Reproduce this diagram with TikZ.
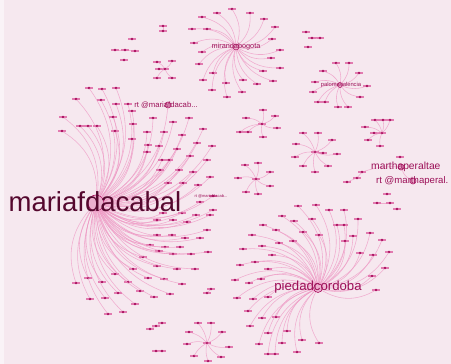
\documentclass[tikz,border=0pt]{standalone}
\usepackage{fontspec}
\setmainfont{Liberation Sans}
\definecolor{bgc}{HTML}{F6E8EF}
\definecolor{edgec}{HTML}{EE98C4}
\definecolor{dashc}{HTML}{E27BB0}
\definecolor{dotc}{HTML}{A80F5E}
\definecolor{hubc}{HTML}{E48AB8}
\definecolor{namec}{HTML}{9C1058}
\definecolor{bigc}{HTML}{55082E}

\begin{document}
\begin{tikzpicture}[x=1pt,y=-1pt]
\tikzset{
  leaf/.style={rectangle,fill=dashc,minimum width=8pt,minimum height=1.1pt,inner sep=0pt,label={[dot,anchor=center]center:}},
  dot/.style={circle,fill=dotc,minimum size=2.6pt,inner sep=0pt},
  hub/.style={circle,fill=hubc,fill opacity=0.6,draw=dotc,line width=0.6pt,inner sep=0pt},
  link/.style={draw=edgec,line width=0.55pt,draw opacity=0.75,bend left=#1},
  link/.default=30,
  nametext/.style={text=namec,inner sep=0pt}
}
\useasboundingbox (0,0) rectangle (451,364);
\fill[bgc] (0,0) rectangle (451,364);
\fill[white,opacity=0.5] (0,0) rectangle (4,364);

% hubs
\node[hub,minimum size=16pt] (maria) at (96,203) {};
\node[hub,minimum size=9pt] (piedad) at (318,288) {};
\node[hub,minimum size=6pt] (miranda) at (236,47) {};
\node[hub,minimum size=5pt] (paloma) at (340,85) {};
\node[hub,minimum size=6pt] (rtmaria) at (168,105) {};
\node[hub,minimum size=6pt] (martha) at (401,167) {};
\node[hub,minimum size=6pt] (rtmartha) at (413,181) {};

% mariafdacabal
\draw[link=30] (rtmaria) to (maria);
\node[leaf] (m1) at (89,88) {};   \draw[link=30] (m1) to (maria);
\node[leaf] (m2) at (102,89) {};  \draw[link=30] (m2) to (maria);
\node[leaf] (m3) at (116,88) {};  \draw[link=30] (m3) to (maria);
\node[leaf] (m4) at (76,99) {};   \draw[link=30] (m4) to (maria);
\node[leaf] (m5) at (101,100) {}; \draw[link=30] (m5) to (maria);
\node[leaf] (m6) at (116,104) {}; \draw[link=30] (m6) to (maria);
\node[leaf] (m7) at (128,104) {}; \draw[link=30] (m7) to (maria);
\node[leaf] (m8) at (63,117) {};  \draw[link=30] (m8) to (maria);
\node[leaf] (m9) at (113,117) {}; \draw[link=30] (m9) to (maria);
\node[leaf] (m10) at (62,131) {}; \draw[link=30] (m10) to (maria);
\node[leaf] (m11) at (80,126) {}; \draw[link=30] (m11) to (maria);
\node[leaf] (m12) at (88,126) {}; \draw[link=30] (m12) to (maria);
\node[leaf] (m13) at (97,126) {}; \draw[link=30] (m13) to (maria);
\node[leaf] (m14) at (115,131) {}; \draw[link=30] (m14) to (maria);
\node[leaf] (m15) at (132,111) {}; \draw[link=30] (m15) to (maria);
\node[leaf] (m16) at (133,124) {}; \draw[link=30] (m16) to (maria);
\node[leaf] (m17) at (153,118) {}; \draw[link=30] (m17) to (maria);
\node[leaf] (m18) at (173,122) {}; \draw[link=30] (m18) to (maria);
\node[leaf] (m19) at (189,118) {}; \draw[link=30] (m19) to (maria);
\node[leaf] (m20) at (203,129) {}; \draw[link=30] (m20) to (maria);
\node[leaf] (m21) at (147,132) {}; \draw[link=30] (m21) to (maria);
\node[leaf] (m22) at (164,132) {}; \draw[link=30] (m22) to (maria);
\node[leaf] (m23) at (182,135) {}; \draw[link=30] (m23) to (maria);
\node[leaf] (m24) at (197,143) {}; \draw[link=30] (m24) to (maria);
\node[leaf] (m25) at (212,146) {}; \draw[link=30] (m25) to (maria);
\node[leaf] (m26) at (132,139) {}; \draw[link=30] (m26) to (maria);
\node[leaf] (m27) at (148,145) {}; \draw[link=30] (m27) to (maria);
\node[leaf] (m28) at (159,146) {}; \draw[link=30] (m28) to (maria);
\node[leaf] (m29) at (177,149) {}; \draw[link=30] (m29) to (maria);
\node[leaf] (m30) at (190,156) {}; \draw[link=30] (m30) to (maria);
\node[leaf] (m31) at (207,160) {}; \draw[link=30] (m31) to (maria);
\node[leaf] (m32) at (147,152) {}; \draw[link=30] (m32) to (maria);
\node[leaf] (m33) at (162,160) {}; \draw[link=30] (m33) to (maria);
\node[leaf] (m34) at (169,160) {}; \draw[link=30] (m34) to (maria);
\node[leaf] (m35) at (160,170) {}; \draw[link=30] (m35) to (maria);
\node[leaf] (m36) at (179,170) {}; \draw[link=30] (m36) to (maria);
\node[leaf] (m37) at (193,172) {}; \draw[link=30] (m37) to (maria);
\node[leaf] (m38) at (210,177) {}; \draw[link=30] (m38) to (maria);
\node[leaf] (m39) at (168,183) {}; \draw[link=30] (m39) to (maria);
\node[leaf] (m40) at (183,183) {}; \draw[link=30] (m40) to (maria);
\node[leaf] (m41) at (198,185) {}; \draw[link=30] (m41) to (maria);
\node[leaf] (m42) at (200,202) {}; \draw[link=30] (m42) to (maria);
\node[leaf] (m43) at (213,210) {}; \draw[link=30] (m43) to (maria);
\node[leaf] (m44) at (163,213) {}; \draw[link=30] (m44) to (maria);
\node[leaf] (m45) at (182,213) {}; \draw[link=30] (m45) to (maria);
\node[leaf] (m46) at (196,215) {}; \draw[link=30] (m46) to (maria);
\node[leaf] (m47) at (210,215) {}; \draw[link=30] (m47) to (maria);
\node[leaf] (m48) at (157,220) {}; \draw[link=30] (m48) to (maria);
\node[leaf] (m49) at (173,220) {}; \draw[link=30] (m49) to (maria);
\node[leaf] (m50) at (187,222) {}; \draw[link=30] (m50) to (maria);
\node[leaf] (m51) at (207,230) {}; \draw[link=30] (m51) to (maria);
\node[leaf] (m52) at (157,235) {}; \draw[link=30] (m52) to (maria);
\node[leaf] (m53) at (172,235) {}; \draw[link=30] (m53) to (maria);
\node[leaf] (m54) at (185,238) {}; \draw[link=30] (m54) to (maria);
\node[leaf] (m55) at (200,238) {}; \draw[link=30] (m55) to (maria);
\node[leaf] (m56) at (150,245) {}; \draw[link=30] (m56) to (maria);
\node[leaf] (m57) at (165,247) {}; \draw[link=30] (m57) to (maria);
\node[leaf] (m58) at (180,247) {}; \draw[link=30] (m58) to (maria);
\node[leaf] (m59) at (208,252) {}; \draw[link=30] (m59) to (maria);
\node[leaf] (m60) at (76,283) {}; \draw[link=30] (m60) to (maria);
\node[leaf] (m61) at (88,278) {}; \draw[link=30] (m61) to (maria);
\node[leaf] (m62) at (102,282) {}; \draw[link=30] (m62) to (maria);
\node[leaf] (m63) at (115,274) {}; \draw[link=30] (m63) to (maria);
\node[leaf] (m64) at (128,282) {}; \draw[link=30] (m64) to (maria);
\node[leaf] (m65) at (133,269) {}; \draw[link=30] (m65) to (maria);
\node[leaf] (m66) at (143,257) {}; \draw[link=30] (m66) to (maria);
\node[leaf] (m67) at (159,251) {}; \draw[link=30] (m67) to (maria);
\node[leaf] (m68) at (173,254) {}; \draw[link=30] (m68) to (maria);
\node[leaf] (m69) at (191,254) {}; \draw[link=30] (m69) to (maria);
\node[leaf] (m70) at (157,266) {}; \draw[link=30] (m70) to (maria);
\node[leaf] (m71) at (177,269) {}; \draw[link=30] (m71) to (maria);
\node[leaf] (m72) at (195,269) {}; \draw[link=30] (m72) to (maria);
\node[leaf] (m73) at (148,278) {}; \draw[link=30] (m73) to (maria);
\node[leaf] (m74) at (164,279) {}; \draw[link=30] (m74) to (maria);
\node[leaf] (m75) at (182,284) {}; \draw[link=30] (m75) to (maria);
\node[leaf] (m76) at (90,299) {}; \draw[link=30] (m76) to (maria);
\node[leaf] (m77) at (105,298) {}; \draw[link=30] (m77) to (maria);
\node[leaf] (m78) at (118,293) {}; \draw[link=30] (m78) to (maria);
\node[leaf] (m79) at (140,291) {}; \draw[link=30] (m79) to (maria);
\node[leaf] (m80) at (154,297) {}; \draw[link=30] (m80) to (maria);
\node[leaf] (m81) at (170,294) {}; \draw[link=30] (m81) to (maria);
\node[leaf] (m82) at (108,314) {}; \draw[link=30] (m82) to (maria);
\node[leaf] (m83) at (123,312) {}; \draw[link=30] (m83) to (maria);
\node[leaf] (m84) at (135,304) {}; \draw[link=30] (m84) to (maria);
\node[leaf] (m85) at (213,196) {}; \draw[link=30] (m85) to (maria);

% piedadcordoba
\node[leaf] (p1) at (298,206) {}; \draw[link=30] (p1) to (piedad);
\node[leaf] (p2) at (316,205) {}; \draw[link=30] (p2) to (piedad);
\node[leaf] (p3) at (282,216) {}; \draw[link=30] (p3) to (piedad);
\node[leaf] (p4) at (294,221) {}; \draw[link=30] (p4) to (piedad);
\node[leaf] (p5) at (312,219) {}; \draw[link=30] (p5) to (piedad);
\node[leaf] (p6) at (329,210) {}; \draw[link=30] (p6) to (piedad);
\node[leaf] (p7) at (344,210) {}; \draw[link=30] (p7) to (piedad);
\node[leaf] (p8) at (358,219) {}; \draw[link=30] (p8) to (piedad);
\node[leaf] (p9) at (337,225) {}; \draw[link=30] (p9) to (piedad);
\node[leaf] (p10) at (344,225) {}; \draw[link=30] (p10) to (piedad);
\node[leaf] (p11) at (263,225) {}; \draw[link=30] (p11) to (piedad);
\node[leaf] (p12) at (276,230) {}; \draw[link=30] (p12) to (piedad);
\node[leaf] (p13) at (303,232) {}; \draw[link=30] (p13) to (piedad);
\node[leaf] (p14) at (319,235) {}; \draw[link=30] (p14) to (piedad);
\node[leaf] (p15) at (252,235) {}; \draw[link=30] (p15) to (piedad);
\node[leaf] (p16) at (262,246) {}; \draw[link=30] (p16) to (piedad);
\node[leaf] (p17) at (279,243) {}; \draw[link=30] (p17) to (piedad);
\node[leaf] (p18) at (293,241) {}; \draw[link=30] (p18) to (piedad);
\node[leaf] (p19) at (345,241) {}; \draw[link=30] (p19) to (piedad);
\node[leaf] (p20) at (353,236) {}; \draw[link=30] (p20) to (piedad);
\node[leaf] (p21) at (370,233) {}; \draw[link=30] (p21) to (piedad);
\node[leaf] (p22) at (382,240) {}; \draw[link=30] (p22) to (piedad);
\node[leaf] (p23) at (243,249) {}; \draw[link=30] (p23) to (piedad);
\node[leaf] (p24) at (272,255) {}; \draw[link=30] (p24) to (piedad);
\node[leaf] (p25) at (360,253) {}; \draw[link=30] (p25) to (piedad);
\node[leaf] (p26) at (373,255) {}; \draw[link=30] (p26) to (piedad);
\node[leaf] (p27) at (389,252) {}; \draw[link=30] (p27) to (piedad);
\node[leaf] (p28) at (240,265) {}; \draw[link=30] (p28) to (piedad);
\node[leaf] (p29) at (255,262) {}; \draw[link=30] (p29) to (piedad);
\node[leaf] (p30) at (268,269) {}; \draw[link=30] (p30) to (piedad);
\node[leaf] (p31) at (385,268) {}; \draw[link=30] (p31) to (piedad);
\node[leaf] (p32) at (235,280) {}; \draw[link=30] (p32) to (piedad);
\node[leaf] (p33) at (249,283) {}; \draw[link=30] (p33) to (piedad);
\node[leaf] (p34) at (261,279) {}; \draw[link=30] (p34) to (piedad);
\node[leaf] (p35) at (372,276) {}; \draw[link=30] (p35) to (piedad);
\node[leaf] (p36) at (376,290) {}; \draw[link=30] (p36) to (piedad);
\node[leaf] (p37) at (237,298) {}; \draw[link=30] (p37) to (piedad);
\node[leaf] (p38) at (253,299) {}; \draw[link=30] (p38) to (piedad);
\node[leaf] (p39) at (268,297) {}; \draw[link=30] (p39) to (piedad);
\node[leaf] (p40) at (248,311) {}; \draw[link=30] (p40) to (piedad);
\node[leaf] (p41) at (262,318) {}; \draw[link=30] (p41) to (piedad);
\node[leaf] (p42) at (276,317) {}; \draw[link=30] (p42) to (piedad);
\node[leaf] (p43) at (250,326) {}; \draw[link=30] (p43) to (piedad);
\node[leaf] (p44) at (268,333) {}; \draw[link=30] (p44) to (piedad);
\node[leaf] (p45) at (287,331) {}; \draw[link=30] (p45) to (piedad);
\node[leaf] (p46) at (259,344) {}; \draw[link=30] (p46) to (piedad);
\node[leaf] (p47) at (282,343) {}; \draw[link=30] (p47) to (piedad);
\node[leaf] (p48) at (302,340) {}; \draw[link=30] (p48) to (piedad);
\node[leaf] (p49) at (319,343) {}; \draw[link=30] (p49) to (piedad);
\node[leaf] (p50) at (268,354) {}; \draw[link=30] (p50) to (piedad);
\node[leaf] (p51) at (275,354) {}; \draw[link=30] (p51) to (piedad);
\node[leaf] (p52) at (297,352) {}; \draw[link=30] (p52) to (piedad);

% mirandabogota
\node[leaf] (b1) at (232,9) {};   \draw[link=25] (b1) to (miranda);
\node[leaf] (b2) at (217,13) {};  \draw[link=25] (b2) to (miranda);
\node[leaf] (b3) at (250,13) {};  \draw[link=25] (b3) to (miranda);
\node[leaf] (b4) at (202,17) {};  \draw[link=25] (b4) to (miranda);
\node[leaf] (b5) at (264,19) {};  \draw[link=25] (b5) to (miranda);
\node[leaf] (b6) at (192,29) {};  \draw[link=25] (b6) to (miranda);
\node[leaf] (b7) at (207,29) {};  \draw[link=25] (b7) to (miranda);
\node[leaf] (b8) at (275,27) {};  \draw[link=25] (b8) to (miranda);
\node[leaf] (b9) at (194,43) {};  \draw[link=25] (b9) to (miranda);
\node[leaf] (b10) at (272,39) {}; \draw[link=25] (b10) to (miranda);
\node[leaf] (b11) at (202,52) {}; \draw[link=25] (b11) to (miranda);
\node[leaf] (b12) at (280,50) {}; \draw[link=25] (b12) to (miranda);
\node[leaf] (b13) at (271,58) {}; \draw[link=25] (b13) to (miranda);
\node[leaf] (b14) at (199,64) {}; \draw[link=25] (b14) to (miranda);
\node[leaf] (b15) at (213,73) {}; \draw[link=25] (b15) to (miranda);
\node[leaf] (b16) at (263,71) {}; \draw[link=25] (b16) to (miranda);
\node[leaf] (b17) at (280,68) {}; \draw[link=25] (b17) to (miranda);
\node[leaf] (b18) at (203,80) {}; \draw[link=25] (b18) to (miranda);
\node[leaf] (b19) at (226,83) {}; \draw[link=25] (b19) to (miranda);
\node[leaf] (b20) at (243,80) {}; \draw[link=25] (b20) to (miranda);
\node[leaf] (b21) at (257,84) {}; \draw[link=25] (b21) to (miranda);
\node[leaf] (b22) at (273,81) {}; \draw[link=25] (b22) to (miranda);
\node[leaf] (b23) at (212,90) {}; \draw[link=25] (b23) to (miranda);
\node[leaf] (b24) at (227,97) {}; \draw[link=25] (b24) to (miranda);
\node[leaf] (b25) at (242,92) {}; \draw[link=25] (b25) to (miranda);

% palomavalencia
\node[leaf] (v1) at (336,63) {};  \draw[link=20] (v1) to (paloma);
\node[leaf] (v2) at (349,63) {};  \draw[link=20] (v2) to (paloma);
\node[leaf] (v3) at (323,71) {};  \draw[link=20] (v3) to (paloma);
\node[leaf] (v4) at (359,73) {};  \draw[link=20] (v4) to (paloma);
\node[leaf] (v5) at (315,82) {};  \draw[link=20] (v5) to (paloma);
\node[leaf] (v6) at (367,86) {};  \draw[link=20] (v6) to (paloma);
\node[leaf] (v7) at (313,92) {};  \draw[link=20] (v7) to (paloma);
\node[leaf] (v8) at (360,97) {};  \draw[link=20] (v8) to (paloma);
\node[leaf] (v9) at (318,102) {}; \draw[link=20] (v9) to (paloma);
\node[leaf] (v10) at (325,102) {}; \draw[link=20] (v10) to (paloma);
\node[leaf] (v11) at (338,107) {}; \draw[link=20] (v11) to (paloma);
\node[leaf] (v12) at (348,107) {}; \draw[link=20] (v12) to (paloma);

% small groups
\node[leaf] (a0) at (262,124) {};
\node[leaf] (a1) at (263,110) {}; \draw[link=15] (a1) to (a0);
\node[leaf] (a2) at (246,118) {}; \draw[link=15] (a2) to (a0);
\node[leaf] (a3) at (275,116) {}; \draw[link=15] (a3) to (a0);
\node[leaf] (a4) at (240,132) {}; \draw[link=15] (a4) to (a0);
\node[leaf] (a5) at (248,132) {}; \draw[link=15] (a5) to (a0);
\node[leaf] (a6) at (263,137) {}; \draw[link=15] (a6) to (a0);
\node[leaf] (a7) at (277,128) {}; \draw[link=15] (a7) to (a0);

\node[leaf] (c0) at (256,179) {};
\node[leaf] (c1) at (245,165) {}; \draw[link=15] (c1) to (c0);
\node[leaf] (c2) at (258,163) {}; \draw[link=15] (c2) to (c0);
\node[leaf] (c3) at (270,172) {}; \draw[link=15] (c3) to (c0);
\node[leaf] (c4) at (238,178) {}; \draw[link=15] (c4) to (c0);
\node[leaf] (c5) at (270,186) {}; \draw[link=15] (c5) to (c0);
\node[leaf] (c6) at (246,192) {}; \draw[link=15] (c6) to (c0);
\node[leaf] (c7) at (258,194) {}; \draw[link=15] (c7) to (c0);

\node[leaf] (d0) at (315,152) {};
\node[leaf] (d1) at (303,133) {}; \draw[link=15] (d1) to (d0);
\node[leaf] (d2) at (318,133) {}; \draw[link=15] (d2) to (d0);
\node[leaf] (d3) at (332,140) {}; \draw[link=15] (d3) to (d0);
\node[leaf] (d4) at (296,144) {}; \draw[link=15] (d4) to (d0);
\node[leaf] (d5) at (295,157) {}; \draw[link=15] (d5) to (d0);
\node[leaf] (d6) at (323,153) {}; \draw[link=15] (d6) to (d0);
\node[leaf] (d7) at (337,154) {}; \draw[link=15] (d7) to (d0);
\node[leaf] (d8) at (303,166) {}; \draw[link=15] (d8) to (d0);
\node[leaf] (d9) at (315,172) {}; \draw[link=15] (d9) to (d0);
\node[leaf] (d10) at (328,166) {}; \draw[link=15] (d10) to (d0);

\node[leaf] (e0) at (382,133) {};
\node[leaf] (e1) at (375,120) {}; \draw[link=15] (e1) to (e0);
\node[leaf] (e2) at (383,120) {}; \draw[link=15] (e2) to (e0);
\node[leaf] (e3) at (390,120) {}; \draw[link=15] (e3) to (e0);
\node[leaf] (e4) at (365,127) {}; \draw[link=15] (e4) to (e0);
\node[leaf] (e5) at (374,133) {}; \draw[link=15] (e5) to (e0);
\node[leaf] (e6) at (368,140) {}; \draw[link=15] (e6) to (e0);
\node[leaf] (e7) at (380,146) {}; \draw[link=15] (e7) to (e0);

\node[leaf] (f0) at (207,343) {};
\node[leaf] (f1) at (198,323) {}; \draw[link=15] (f1) to (f0);
\node[leaf] (f2) at (211,323) {}; \draw[link=15] (f2) to (f0);
\node[leaf] (f3) at (189,332) {}; \draw[link=15] (f3) to (f0);
\node[leaf] (f4) at (222,332) {}; \draw[link=15] (f4) to (f0);
\node[leaf] (f5) at (187,344) {}; \draw[link=15] (f5) to (f0);
\node[leaf] (f6) at (229,347) {}; \draw[link=15] (f6) to (f0);
\node[leaf] (f7) at (194,356) {}; \draw[link=15] (f7) to (f0);
\node[leaf] (f8) at (221,357) {}; \draw[link=15] (f8) to (f0);
\node[leaf] (f9) at (208,361) {}; \draw[link=15] (f9) to (f0);

\node[leaf] (g0) at (165,69) {};
\node[leaf] (g1) at (157,62) {}; \draw[link=15] (g1) to (g0);
\node[leaf] (g2) at (172,61) {}; \draw[link=15] (g2) to (g0);
\node[leaf] (g3) at (157,78) {}; \draw[link=15] (g3) to (g0);
\node[leaf] (g4) at (172,78) {}; \draw[link=15] (g4) to (g0);
\node[leaf] (g5) at (159,69) {}; \draw[link=15] (g5) to (g0);

% loose pairs and chains
\node[leaf] (h1) at (163,26) {}; \node[leaf] (h2) at (163,31) {}; \draw[link=0] (h1) to (h2);
\node[leaf] (h3) at (132,39) {};
\node[leaf] (h4) at (115,50) {}; \node[leaf] (h5) at (125,50) {}; \draw[link=0] (h4) to (h5);
\node[leaf] (h6) at (135,51) {}; \draw[link=0] (h5) to (h6);
\node[leaf] (h7) at (124,60) {};
\node[leaf] (k1) at (306,32) {};
\node[leaf] (k2) at (312,38) {}; \node[leaf] (k3) at (320,38) {}; \draw[link=0] (k2) to (k3);
\node[leaf] (k4) at (308,47) {};
\node[leaf] (n1) at (150,329) {}; \node[leaf] (n2) at (156,326) {}; \draw[link=0] (n1) to (n2);
\node[leaf] (n3) at (162,323) {}; \draw[link=0] (n2) to (n3);
\node[leaf] (n4) at (156,351) {}; \node[leaf] (n5) at (162,351) {}; \draw[link=0] (n4) to (n5);
\node[leaf] (n6) at (211,289) {}; \node[leaf] (n7) at (207,293) {}; \draw[link=0] (n6) to (n7);

% marthaperaltae
\draw[link=20] (rtmartha) to (martha);
\node[leaf] (t1) at (362,172) {}; \draw[link=10] (t1) to (martha);
\node[leaf] (t2) at (357,178) {}; \draw[link=0] (t2) to (t1);
\node[leaf] (t3) at (347,182) {}; \draw[link=0] (t3) to (t2);
\node[leaf] (t4) at (400,157) {};
\node[leaf] (t5) at (387,194) {};
\node[leaf] (t6) at (377,203) {}; \node[leaf] (t7) at (390,203) {}; \draw[link=0] (t6) to (t7);
\node[leaf] (t8) at (397,209) {};

% names
\node[text=bigc,inner sep=0pt,font=\fontsize{27.5}{30}\selectfont] (maria-name) at (95,202) {mariafdacabal};
\node[nametext,font=\fontsize{13.2}{15}\selectfont] (piedad-name) at (318,287) {piedadcordoba};
\node[nametext,font=\fontsize{7.3}{8}\selectfont] (miranda-name) at (236,47) {mirandabogota};
\node[nametext,font=\fontsize{7.7}{9}\selectfont] (rtmaria-name) at (166,105) {rt @mariafdacab...};
\node[nametext,font=\fontsize{5.8}{7}\selectfont] (paloma-name) at (341,85) {palomavalencia};
\node[nametext,font=\fontsize{10.3}{12}\selectfont,anchor=west] (martha-name) at (371,167) {marthaperaltae};
\node[nametext,font=\fontsize{9.6}{11}\selectfont,anchor=west] (rtmartha-name) at (376,181) {rt @marthaperal.};
\node[nametext,font=\fontsize{4}{5}\selectfont] (m85-name) at (211,196) {rt @mariafdacab...};
\end{tikzpicture}
\end{document}
